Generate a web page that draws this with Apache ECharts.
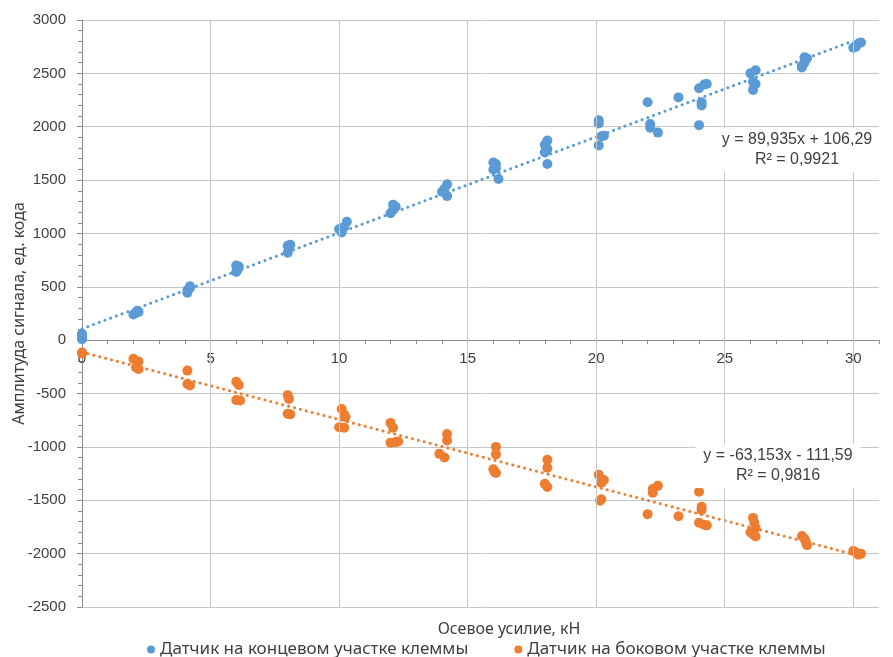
<!DOCTYPE html>
<html><head><meta charset="utf-8">
<script src="https://cdn.jsdelivr.net/npm/echarts@6/dist/echarts.min.js"></script>
<style>html,body{margin:0;padding:0;background:#fff}#c{width:893px;height:657px}</style>
</head><body><div id="c"></div>
<script>
const seriesNames = ['Датчик на концевом участке клеммы', 'Датчик на боковом участке клеммы'];
const colors = ['#5B9BD5', '#ED7D31'];
const xTitle = 'Осевое усилие, кН';
const yTitle = 'Амплитуда сигнала, ед. кода';
const eqTexts = ['y = 89,935x + 106,29\nR² = 0,9921', 'y = -63,153x - 111,59\nR² = 0,9816'];
const xGridLines = [5, 10, 15, 20, 25, 30];

const blueData = [
  [0,10],[0,25],[0,40],[0,60],
  [2.0,240],[2.1,255],[2.2,265],[2.15,275],
  [4.1,445],[4.1,470],[4.2,490],[4.2,505],
  [6.0,640],[6.05,660],[6.1,690],[6.0,700],
  [8.0,820],[8.05,870],[8.1,895],[8.0,885],
  [10.1,1010],[10.0,1040],[10.1,1050],[10.2,1060],[10.3,1110],
  [12.0,1190],[12.1,1220],[12.2,1250],[12.1,1270],
  [14.2,1350],[14.0,1390],[14.1,1420],[14.2,1460],
  [16.2,1510],[16.0,1600],[16.1,1610],[16.1,1650],[16.0,1665],
  [18.1,1650],[18.0,1760],[18.1,1790],[18.0,1830],[18.1,1870],
  [20.1,1825],[20.2,1910],[20.3,1915],[20.1,2030],[20.1,2060],
  [22.0,2230],[22.1,2025],[22.1,1990],[22.4,1945],
  [23.2,2275],
  [24.0,2015],[24.1,2200],[24.1,2230],[24.0,2360],[24.2,2395],[24.3,2400],
  [26.1,2345],[26.2,2400],[26.1,2420],[26.0,2500],[26.2,2530],
  [28.0,2555],[28.0,2570],[28.1,2600],[28.2,2640],[28.1,2650],
  [30.0,2740],[30.1,2750],[30.1,2760],[30.2,2780],[30.3,2790]
];
const orangeData = [
  [0,-115],[0,-125],
  [2.0,-175],[2.2,-200],[2.1,-255],[2.2,-270],
  [4.1,-285],[4.1,-410],[4.2,-425],
  [6.0,-390],[6.1,-420],[6.0,-560],[6.15,-565],
  [8.0,-515],[8.05,-550],[8.0,-690],[8.1,-695],
  [10.1,-645],[10.2,-700],[10.25,-720],[10.0,-815],[10.2,-820],
  [12.0,-775],[12.1,-820],[12.0,-960],[12.2,-955],[12.3,-950],
  [14.2,-880],[14.2,-940],[13.9,-1065],[14.1,-1100],
  [16.1,-1000],[16.1,-1070],[16.0,-1210],[16.05,-1235],[16.1,-1245],
  [18.1,-1120],[18.1,-1195],[18.0,-1345],[18.1,-1375],
  [20.1,-1260],[20.3,-1310],[20.2,-1335],[20.2,-1490],[20.15,-1505],
  [22.4,-1365],[22.2,-1395],[22.2,-1430],[22.0,-1630],
  [23.2,-1650],
  [24.0,-1420],[24.1,-1560],[24.1,-1590],[24.0,-1710],[24.2,-1730],[24.3,-1735],
  [26.1,-1665],[26.15,-1710],[26.2,-1760],[26.0,-1800],[26.1,-1820],[26.2,-1840],
  [28.0,-1835],[28.1,-1860],[28.15,-1890],[28.2,-1920],
  [30.0,-1975],[30.1,-1990],[30.3,-2000],[30.2,-2010]
];
const trendBlue = [[0,106.29],[30,2804.34]];
const trendOrange = [[0,-111.59],[30,-2006.18]];

const NUMFONT = 'Liberation Sans';
const FONT = 'Noto Sans';
const TXT = '#404040';
const chart = echarts.init(document.getElementById('c'));
const trendStyle = c => ({color: c, width: 3, type: [0.1, 6], cap: 'round'});
chart.setOption({
  animation: false,
  textStyle: {fontFamily: FONT},
  grid: {left: 82, right: 14, top: 20, bottom: 50, containLabel: false, outerBoundsMode: 'none'},
  xAxis: {
    type: 'value', min: 0, max: 31, interval: 1,
    axisLine: {onZero: false, lineStyle: {color: '#8c8c8c', width: 1}},
    axisTick: {show: true, length: 4, lineStyle: {color: '#8c8c8c'}},
    axisLabel: {color: TXT, fontSize: 15, fontFamily: NUMFONT, margin: 11,
      formatter: v => (v % 5 === 0 ? String(v) : '')},
    splitLine: {show: false}
  },
  yAxis: {
    type: 'value', min: -2500, max: 3000, interval: 500,
    name: yTitle, nameLocation: 'middle', nameGap: 55, nameMoveOverlap: false,
    nameTextStyle: {color: TXT, fontSize: 16, fontFamily: FONT},
    axisLine: {show: true, lineStyle: {color: '#8c8c8c'}},
    axisTick: {show: true, length: 5, lineStyle: {color: '#8c8c8c'}},
    minorTick: {show: true, splitNumber: 5, length: 4, lineStyle: {color: '#8c8c8c'}},
    axisLabel: {color: TXT, fontSize: 15, fontFamily: NUMFONT, margin: 16, formatter: v => String(v)},
    splitLine: {show: true, lineStyle: {color: '#c6c6c6', width: 1}}
  },
  legend: {
    data: seriesNames, top: 636, left: 142, itemGap: 46,
    icon: 'circle', itemWidth: 8, itemHeight: 8,
    textStyle: {color: TXT, fontSize: 17, fontFamily: FONT}
  },
  graphic: [
    {type: 'text', x: 509, y: 629, style: {text: xTitle, fill: TXT, font: '16px ' + FONT, align: 'center', verticalAlign: 'middle'}},
    {type: 'text', x: 797, y: 128, z: 50, style: {text: eqTexts[0], fill: TXT, font: '16px ' + NUMFONT, align: 'center', lineHeight: 20, backgroundColor: '#fff', padding: [2, 8]}},
    {type: 'text', x: 778, y: 444, z: 50, style: {text: eqTexts[1], fill: TXT, font: '16px ' + NUMFONT, align: 'center', lineHeight: 20, backgroundColor: '#fff', padding: [2, 8]}}
  ],
  series: [
    {type: 'line', data: [], z: 0, silent: true,
      markLine: {silent: true, symbol: 'none', label: {show: false},
        lineStyle: {color: '#c6c6c6', width: 1, type: 'solid'},
        data: xGridLines.map(v => ({xAxis: v}))}},
    {type: 'line', data: trendBlue, showSymbol: false, silent: true, z: 3, lineStyle: trendStyle(colors[0])},
    {type: 'line', data: trendOrange, showSymbol: false, silent: true, z: 3, lineStyle: trendStyle(colors[1])},
    {name: seriesNames[0], type: 'scatter', data: blueData, symbolSize: 10, itemStyle: {color: colors[0], opacity: 1}, z: 4},
    {name: seriesNames[1], type: 'scatter', data: orangeData, symbolSize: 10, itemStyle: {color: colors[1], opacity: 1}, z: 4}
  ]
});
// place the x axis on y = 0, as the reference does
const bottomPx = chart.convertToPixel({yAxisIndex: 0}, -2500);
const zeroPx = chart.convertToPixel({yAxisIndex: 0}, 0);
chart.setOption({xAxis: {offset: zeroPx - bottomPx}});
</script></body></html>
